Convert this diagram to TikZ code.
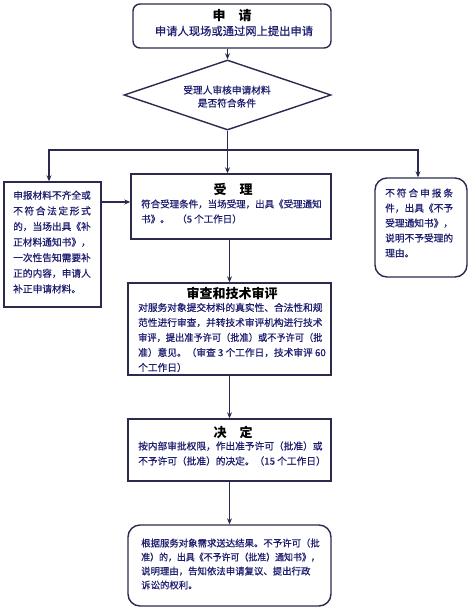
\documentclass[tikz,border=0pt]{standalone}
\usepackage{fontspec}
\usepackage{graphicx}
\setmainfont{Noto Sans CJK SC}
\newfontfamily\bodyfont{Noto Sans CJK SC}[FakeBold=0.6]
\usetikzlibrary{shapes.geometric,arrows.meta}
\definecolor{bordc}{HTML}{2A2A4E}
\definecolor{txtc}{HTML}{1E1E70}
\begin{document}
\begin{tikzpicture}[x=1pt,y=-1pt,
  box/.style={draw=bordc, line width=1.4pt, inner sep=0pt},
  rbox/.style={box, rounded corners=7pt},
  title/.style={font=\fontsize{13}{15}\selectfont\bfseries, text=black, inner sep=0pt},
  body/.style={font=\bodyfont\fontsize{9.7}{15}\selectfont, text=txtc, inner sep=0pt, align=left, anchor=west},
  tip/.tip={Stealth[length=6pt,width=5pt]},
  conn/.style={draw=bordc, line width=1.1pt},
  arr/.style={conn, -tip}]
\useasboundingbox (0,0) rectangle (471,611);
\fill[white] (0,0) rectangle (471,611);

% boxes
\node[rbox, minimum width=198pt, minimum height=44pt] (top) at (232,26) {};
\node[box, diamond, minimum width=207pt, minimum height=70pt] (dia) at (227.5,95) {};
\node[box, minimum width=97pt, minimum height=125pt] (left) at (52.5,244.5) {};
\node[box, rounded corners=12pt, minimum width=92pt, minimum height=99pt] (right) at (421,227.5) {};
\node[box, minimum width=200pt, minimum height=65pt] (shouli) at (231,206.5) {};
\node[box, minimum width=203pt, minimum height=92pt] (shencha) at (229.5,329) {};
\node[box, minimum width=203pt, minimum height=62pt] (jueding) at (229.5,450) {};
\node[box, rounded corners=12pt, minimum width=203pt, minimum height=81pt] (final) at (229.5,565.5) {};

% connectors
\coordinate (jl) at (49,150);
\coordinate (jr) at (418,150);
\coordinate (lr) at (0,202);
\draw[arr] (dia.north |- top.south) -- (dia.north);
\draw[arr] (dia.south) -- (dia.south |- shouli.north);
\draw[conn, tip-tip] (jl |- left.north) -- (jl) -- (jr) -- (jr |- right.north);
\draw[arr] (left.east |- lr) -- (shouli.west |- lr);
\draw[arr] (shencha.north |- shouli.south) -- (shencha.north);
\draw[arr] (shencha.south) -- (jueding.north);
\draw[arr] (jueding.south) -- (final.north);

% texts
\node[title] (ttop) at (232,16) {申\hspace{1em}请};
\node[font=\bodyfont\fontsize{11.3}{13}\selectfont, text=txtc, inner sep=0pt] (stop) at (234,31) {申请人现场或通过网上提出申请};
\node[font=\bodyfont\fontsize{9.7}{13}\selectfont, text=txtc, align=center, inner sep=0pt] (tdia) at (227,96.5) {受理人审核申请材料\\是否符合条件};

\node[body, font=\bodyfont\fontsize{9.7}{15.6}\selectfont] (tleft) at (13,242) {申报材料不齐全或\\
\makebox[77.6pt]{不\hfill 符\hfill 合\hfill 法\hfill 定\hfill 形\hfill 式}\\
的，当场出具《补\\
正材料通知书》，\\
一次性告知需要补\\
正的内容，申请人\\
补正申请材料。};

\node[body] (tright) at (385,223) {\makebox[67.9pt]{不\hfill 符\hfill 合\hfill 申\hfill 报\hfill 条}\\
件，出具《不予\\
受理通知书》，\\
说明不予受理的\\
理由。};

\node[title] (tshouli) at (233,189) {受\hspace{1em}理};
\node[body, font=\bodyfont\fontsize{9.5}{15}\selectfont] (bshouli) at (141,211.5) {符合受理条件，当场受理，出具《受理通知\\
书》。\hspace{0.8em}（5 个工作日）};

\node[title] (tshencha) at (232,293) {审查和技术审评};
\node[body] (bshencha) at (138,337.5) {对服务对象提交材料的真实性、合法性和规\\
范性进行审查，并转技术审评机构进行技术\\
\scalebox{0.95}[1]{审评，提出准予许可（批准）或不予许可（批}\\
准）意见。（审查 3 个工作日，技术审评 60\\
个工作日）};

\node[title] (tjueding) at (233,432) {决\hspace{1em}定};
\node[body] (bjueding) at (138,453.5) {按内部审批权限，作出准予许可（批准）或\\
不予许可（批准）的决定。（15 个工作日）};

\node[body, font=\bodyfont\fontsize{9.4}{14}\selectfont] (bfinal) at (141,564) {根据服务对象需求送达结果。不予许可（批\\
\scalebox{0.95}[1]{准）的，出具《不予许可（批准）通知书》，}\\
说明理由，告知依法申请复议、提出行政\\
诉讼的权利。};
\end{tikzpicture}
\end{document}
